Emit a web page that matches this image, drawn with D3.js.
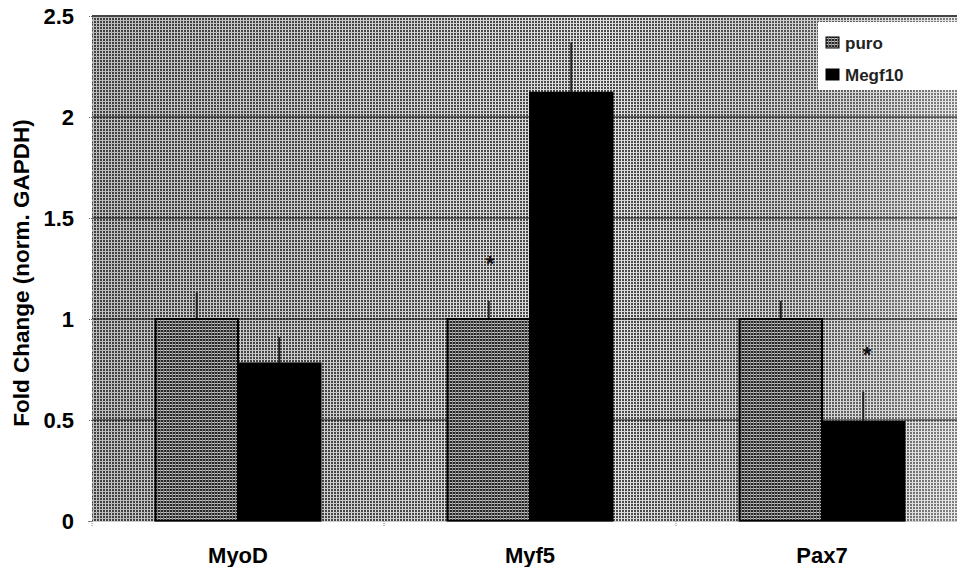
<!DOCTYPE html>
<meta charset="utf-8">
<style>
    body { margin: 0; background: #fff; }
    text { font-family: "Liberation Sans", Arial, sans-serif; font-weight: bold; }
</style>
<body>
<script src="https://d3js.org/d3.v7.min.js"></script>
<script>
    var genes = ["MyoD", "Myf5", "Pax7"];
    var groups = ["puro", "Megf10"];
    var puro = [1.0, 1.0, 1.0];
    var puroErr = [0.13, 0.09, 0.09];
    var megf10 = [0.78, 2.12, 0.49];
    var megf10Err = [0.13, 0.25, 0.15];
    var stars = [null, 1.29, 0.84];   // asterisk heights, null = none
    var yTicks = [0, 0.5, 1, 1.5, 2, 2.5];

    var margin = {top: 16, right: 0, bottom: 46, left: 92},
        width = 957 - margin.left - margin.right,
        height = 567 - margin.top - margin.bottom;

    var svg = d3.select("body").append("svg")
        .attr("width", 957)
        .attr("height", 567);

    var defs = svg.append("defs");

    // dithered look of the scanned background
    var bg = defs.append("pattern").attr("id", "bgpat")
        .attr("width", 3).attr("height", 3).attr("patternUnits", "userSpaceOnUse");
    bg.append("rect").attr("width", 3).attr("height", 3).attr("fill", "#4a4a4a");
    bg.append("rect").attr("x", 1).attr("width", 1).attr("height", 3).attr("fill", "#ececec");
    bg.append("rect").attr("y", 1).attr("width", 3).attr("height", 1).attr("fill", "#d8d8d8");

    var pp = defs.append("pattern").attr("id", "puropat")
        .attr("width", 3).attr("height", 3).attr("patternUnits", "userSpaceOnUse");
    pp.append("rect").attr("width", 3).attr("height", 3).attr("fill", "#262626");
    pp.append("rect").attr("y", 1).attr("width", 3).attr("height", 1).attr("fill", "#c4c4c4");
    pp.append("rect").attr("x", 2).attr("width", 1).attr("height", 3).attr("fill", "#808080");

    var lg = defs.append("linearGradient").attr("id", "fade");
    lg.append("stop").attr("offset", "0%").attr("stop-color", "#000").attr("stop-opacity", 0.15);
    lg.append("stop").attr("offset", "60%").attr("stop-color", "#000").attr("stop-opacity", 0);
    lg.append("stop").attr("offset", "100%").attr("stop-color", "#fff").attr("stop-opacity", 0.3);

    defs.append("clipPath").attr("id", "plotclip")
        .append("rect").attr("width", width).attr("height", height + 10);

    var g = svg.append("g")
        .attr("transform", "translate(" + margin.left + "," + margin.top + ")");

    // categories are 292px wide; the last one runs past the right edge
    var x0 = d3.scaleBand().domain(genes).range([0, 876]).paddingInner(0).paddingOuter(0);
    var x1 = d3.scaleBand().domain(groups).range([0, x0.bandwidth()]).paddingInner(0).paddingOuter(0.77);
    var y = d3.scaleLinear().domain([0, 2.5]).range([height, 0]);

    var plot = g.append("g").attr("clip-path", "url(#plotclip)");

    plot.append("rect").attr("width", width).attr("height", height).attr("fill", "url(#bgpat)");
    plot.append("rect").attr("width", width).attr("height", height).attr("fill", "url(#fade)");

    // gridlines
    plot.selectAll(".grid").data(yTicks.slice(1)).enter().append("line")
        .attr("x1", 0).attr("x2", width)
        .attr("y1", function(d) { return y(d); }).attr("y2", function(d) { return y(d); })
        .attr("stroke", "#111").attr("stroke-width", 1.2);

    var data = genes.map(function(gn, i) {
        return [
            {gene: gn, grp: "puro", v: puro[i], e: puroErr[i]},
            {gene: gn, grp: "Megf10", v: megf10[i], e: megf10Err[i]}
        ];
    });

    var cat = plot.selectAll(".cat").data(data).enter().append("g")
        .attr("transform", function(d) { return "translate(" + x0(d[0].gene) + ",0)"; });

    // error bars (drawn behind bars, only the upper half shows)
    cat.selectAll(".err").data(function(d) { return d; }).enter().append("line")
        .attr("x1", function(d) { return x1(d.grp) + x1.bandwidth() / 2; })
        .attr("x2", function(d) { return x1(d.grp) + x1.bandwidth() / 2; })
        .attr("y1", function(d) { return y(d.v); })
        .attr("y2", function(d) { return y(d.v + d.e); })
        .attr("stroke", "#222").attr("stroke-width", 2);

    cat.selectAll(".bar").data(function(d) { return d; }).enter().append("rect")
        .attr("x", function(d) { return x1(d.grp); })
        .attr("width", x1.bandwidth())
        .attr("y", function(d) { return y(d.v); })
        .attr("height", function(d) { return height - y(d.v); })
        .attr("fill", function(d) { return d.grp === "puro" ? "url(#puropat)" : "#000"; })
        .attr("stroke", "#000").attr("stroke-width", 2);

    // significance asterisks
    plot.selectAll(".star").data(genes.filter(function(d, i) { return stars[i] !== null; })).enter()
        .append("text")
        .attr("x", function(d) { return x0(d) + x0.bandwidth() / 2 + (d === "Myf5" ? -40 : 45); })
        .attr("y", function(d) { return y(stars[genes.indexOf(d)]) + 11; })
        .attr("text-anchor", "middle")
        .attr("font-size", 22)
        .attr("fill", "#111")
        .text("*");

    // plot border top
    g.append("line").attr("x1", 0).attr("x2", width).attr("y1", 0).attr("y2", 0)
        .attr("stroke", "#444").attr("stroke-width", 2);

    // y axis
    var yAxis = g.append("g").call(d3.axisLeft(y).tickValues(yTicks).tickSize(4)
        .tickFormat(function(d) { return d; }));
    yAxis.select(".domain").attr("stroke", "#888").attr("stroke-dasharray", "1,1");
    yAxis.selectAll(".tick line").attr("stroke", "#666").attr("stroke-dasharray", "1,1");
    yAxis.selectAll(".tick text").attr("font-size", 22).attr("fill", "#000")
        .attr("x", -18).attr("dy", "0.36em")
        .style("font-family", "'Liberation Sans', Arial, sans-serif").style("font-weight", "bold");

    // x axis
    var xAxis = g.append("g").attr("transform", "translate(0," + height + ")")
        .call(d3.axisBottom(x0).tickSize(0));
    xAxis.select(".domain").attr("stroke", "#999").attr("stroke-dasharray", "1,1");
    xAxis.selectAll(".tick text").attr("font-size", 22).attr("fill", "#000").attr("dy", 0).attr("y", 42)
        .style("font-family", "'Liberation Sans', Arial, sans-serif").style("font-weight", "bold");
    g.selectAll(".xsep").data(genes).enter().append("line")
        .attr("x1", function(d) { return x0(d); }).attr("x2", function(d) { return x0(d); })
        .attr("y1", height).attr("y2", height + 5)
        .attr("stroke", "#888").attr("stroke-dasharray", "1,1");

    svg.append("text")
        .attr("transform", "translate(29,273) rotate(-90)")
        .attr("text-anchor", "middle")
        .attr("font-size", 22.5)
        .text("Fold Change (norm. GAPDH)");

    // legend
    var leg = g.append("g").attr("transform", "translate(" + (width - 139) + ",0)");
    leg.append("rect").attr("y", 6).attr("width", 139).attr("height", 68).attr("fill", "#fff");
    var li = leg.selectAll(".li").data(groups).enter().append("g")
        .attr("transform", function(d, i) { return "translate(8," + (27 + i * 32) + ")"; });
    li.append("rect").attr("x", 0).attr("y", -6).attr("width", 13).attr("height", 11)
        .attr("fill", function(d) { return d === "puro" ? "url(#puropat)" : "#000"; })
        .attr("stroke", "#000");
    li.append("text").attr("x", 19).attr("dy", "0.36em").attr("font-size", 17).attr("fill", "#222")
        .text(function(d) { return d; });
</script>
</body>
